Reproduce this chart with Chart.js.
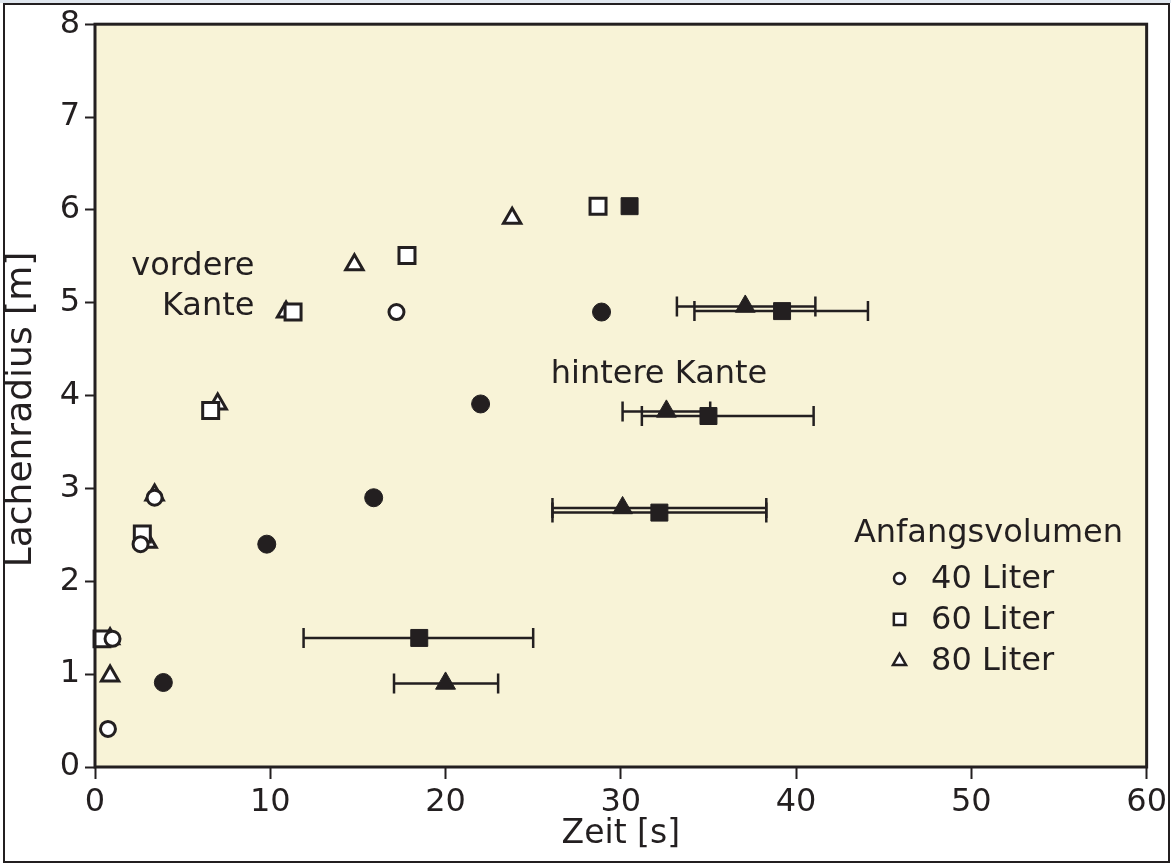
<!DOCTYPE html>
<html>
<head>
<meta charset="utf-8">
<script src="https://cdn.jsdelivr.net/npm/chart.js@4.4.1/dist/chart.umd.min.js"></script>
<style>
  html, body { margin: 0; padding: 0; background: #fff; }
</style>
</head>
<body>
<canvas id="chart" width="1171" height="863"></canvas>
<script>
// vordere Kante (open markers)
const frontCircleX   = [0.74, 1.0, 2.6, 3.4, 17.2]
const frontCircleY   = [0.41, 1.38, 2.40, 2.90, 4.90]
const frontSquareX   = [0.4, 2.7, 6.6, 11.3, 17.8, 28.7]
const frontSquareY   = [1.38, 2.51, 3.84, 4.90, 5.51, 6.04]
const frontTriangleX = [0.86, 0.86, 3.0, 3.4, 7.0, 10.9, 14.8, 23.8]
const frontTriangleY = [0.98, 1.38, 2.42, 2.93, 3.91, 4.90, 5.41, 5.91]

// hintere Kante (filled markers, some with horizontal error bars)
const rearCircleX      = [3.9, 9.8, 15.9, 22.0, 28.9]
const rearCircleY      = [0.91, 2.40, 2.90, 3.91, 4.90]
const rearSquareX      = [18.5, 32.2, 35.0, 39.2, 30.5]
const rearSquareY      = [1.39, 2.74, 3.78, 4.91, 6.04]
const rearSquareXMin   = [11.9, 26.1, 31.2, 34.2, null]
const rearSquareXMax   = [25.0, 38.3, 41.0, 44.1, null]
const rearTriangleX    = [20.0, 30.1, 32.6, 37.1]
const rearTriangleY    = [0.90, 2.79, 3.83, 4.96]
const rearTriangleXMin = [17.06, 26.1, 30.1, 33.2]
const rearTriangleXMax = [23.0, 38.3, 35.1, 41.1]

const legendLabels = ["40 Liter", "60 Liter", "80 Liter"]
const legendTitle = "Anfangsvolumen"
const xTicks = [0, 10, 20, 30, 40, 50, 60]
const yTicks = [0, 1, 2, 3, 4, 5, 6, 7, 8]
const yTitle = "Lachenradius [m]"

const INK = '#231f20'
const FONT = "'DejaVu Sans', 'Liberation Sans', sans-serif"

function pts(xs, ys, mins, maxs) {
    return xs.map((x, i) => ({
        x: x, y: ys[i],
        xMin: mins ? mins[i] : null,
        xMax: maxs ? maxs[i] : null
    }))
}

function openSet(label, data, style, radius) {
    return {
        label: label, data: data, pointStyle: style, pointRadius: radius, pointHoverRadius: radius,
        backgroundColor: '#ffffff', borderColor: INK, borderWidth: 3, clip: false
    }
}

function filledSet(label, data, style, radius) {
    return {
        label: label, data: data, pointStyle: style, pointRadius: radius, pointHoverRadius: radius,
        backgroundColor: INK, borderColor: INK, borderWidth: 1, clip: false
    }
}

// background, plot box and outer frame
const framePlugin = {
    id: 'frame',
    beforeDraw(chart) {
        const { ctx, chartArea: a, width, height } = chart
        ctx.save()
        ctx.fillStyle = '#ffffff'
        ctx.fillRect(0, 0, width, height)
        ctx.fillStyle = '#dfe6ee'
        ctx.fillRect(0, 0, width, 3)
        ctx.strokeStyle = INK
        ctx.lineWidth = 2
        ctx.strokeRect(4, 4, width - 6, height - 5)
        ctx.fillStyle = '#f8f3d7'
        ctx.fillRect(a.left, a.top, a.right - a.left, a.bottom - a.top)
        ctx.restore()
    },
    afterDatasetsDraw(chart) {
        const { ctx, chartArea: a } = chart
        ctx.save()
        ctx.strokeStyle = INK
        ctx.lineWidth = 3
        ctx.strokeRect(a.left, a.top, a.right - a.left, a.bottom - a.top)
        ctx.restore()
    }
}

// horizontal error bars, drawn under the markers
const errorBarPlugin = {
    id: 'errorBars',
    beforeDatasetsDraw(chart) {
        const { ctx, scales: { x, y } } = chart
        ctx.save()
        ctx.strokeStyle = INK
        ctx.lineWidth = 2.5
        chart.data.datasets.forEach(ds => {
            ds.data.forEach(p => {
                if (p.xMin == null || p.xMax == null) return
                const py = y.getPixelForValue(p.y)
                const x0 = x.getPixelForValue(p.xMin)
                const x1 = x.getPixelForValue(p.xMax)
                ctx.beginPath()
                ctx.moveTo(x0, py); ctx.lineTo(x1, py)
                ctx.moveTo(x0, py - 10); ctx.lineTo(x0, py + 10)
                ctx.moveTo(x1, py - 10); ctx.lineTo(x1, py + 10)
                ctx.stroke()
            })
        })
        ctx.restore()
    }
}

function drawMarker(ctx, style, cx, cy, r) {
    ctx.beginPath()
    if (style === 'circle') {
        ctx.arc(cx, cy, r, 0, Math.PI * 2)
    } else if (style === 'rect') {
        const s = r * Math.SQRT1_2
        ctx.rect(cx - s, cy - s, 2 * s, 2 * s)
    } else {
        ctx.moveTo(cx, cy - r)
        ctx.lineTo(cx + r * Math.sin(Math.PI * 2 / 3), cy - r * Math.cos(Math.PI * 2 / 3))
        ctx.lineTo(cx + r * Math.sin(Math.PI * 4 / 3), cy - r * Math.cos(Math.PI * 4 / 3))
        ctx.closePath()
    }
    ctx.fillStyle = '#ffffff'
    ctx.fill()
    ctx.strokeStyle = INK
    ctx.lineWidth = 2.5
    ctx.stroke()
}

// labels inside the plot, the legend block and the y axis title
const textPlugin = {
    id: 'texts',
    afterDraw(chart) {
        const { ctx, scales: { x, y } } = chart
        ctx.save()
        ctx.fillStyle = INK
        ctx.font = '32px ' + FONT
        ctx.textBaseline = 'alphabetic'

        ctx.textAlign = 'right'
        ctx.fillText('vordere', x.getPixelForValue(9.1), y.getPixelForValue(5.30))
        ctx.fillText('Kante', x.getPixelForValue(9.1), y.getPixelForValue(4.87))

        ctx.textAlign = 'left'
        ctx.fillText('hintere Kante', x.getPixelForValue(26.0), y.getPixelForValue(4.14))

        ctx.fillText(legendTitle, x.getPixelForValue(43.3), y.getPixelForValue(2.42))
        const styles = ['circle', 'rect', 'triangle']
        const radii = [5.5, 8, 7.5]
        const rows = [2.03, 1.59, 1.14]
        legendLabels.forEach((lab, i) => {
            const py = y.getPixelForValue(rows[i])
            drawMarker(ctx, styles[i], x.getPixelForValue(45.9), py, radii[i])
            ctx.fillStyle = INK
            ctx.textBaseline = 'middle'
            ctx.fillText(lab, x.getPixelForValue(47.7), py + 1)
        })

        // y axis title, a little below the plot centre as in the original
        ctx.translate(22, y.getPixelForValue(3.85))
        ctx.rotate(-Math.PI / 2)
        ctx.textAlign = 'center'
        ctx.textBaseline = 'middle'
        ctx.font = '36px ' + FONT
        ctx.fillText(yTitle, 0, 0)
        ctx.restore()
    }
}

new Chart(document.getElementById('chart'), {
    type: 'scatter',
    data: {
        datasets: [
            openSet('40 Liter vordere Kante', pts(frontCircleX, frontCircleY), 'circle', 7.5),
            openSet('60 Liter vordere Kante', pts(frontSquareX, frontSquareY), 'rect', 11.3),
            openSet('80 Liter vordere Kante', pts(frontTriangleX, frontTriangleY), 'triangle', 10),
            filledSet('40 Liter hintere Kante', pts(rearCircleX, rearCircleY), 'circle', 9),
            filledSet('60 Liter hintere Kante', pts(rearSquareX, rearSquareY, rearSquareXMin, rearSquareXMax), 'rect', 12),
            filledSet('80 Liter hintere Kante', pts(rearTriangleX, rearTriangleY, rearTriangleXMin, rearTriangleXMax), 'triangle', 11.5)
        ]
    },
    options: {
        responsive: false,
        animation: false,
        devicePixelRatio: 1,
        layout: { padding: { left: 0, right: 23, top: 17, bottom: 0 } },
        plugins: { legend: { display: false }, tooltip: { enabled: false } },
        scales: {
            x: {
                type: 'linear', min: 0, max: 60,
                afterFit(scale) { scale.height = 96 },
                afterBuildTicks(scale) { scale.ticks = xTicks.map(v => ({ value: v })) },
                border: { display: false },
                grid: { drawOnChartArea: false, tickLength: 12, tickColor: INK, tickWidth: 2 },
                ticks: { color: INK, padding: 4, font: { family: FONT, size: 32 }, maxRotation: 0 },
                title: { display: true, text: 'Zeit [s]', color: INK, font: { family: FONT, size: 33 }, padding: { top: 0, bottom: 9 } }
            },
            y: {
                type: 'linear', min: 0, max: 8,
                afterFit(scale) { scale.width = 95 },
                afterBuildTicks(scale) { scale.ticks = yTicks.map(v => ({ value: v })) },
                border: { display: false },
                grid: { drawOnChartArea: false, tickLength: 10, tickColor: INK, tickWidth: 2 },
                ticks: { color: INK, padding: 5, font: { family: FONT, size: 32 } },
                title: { display: false }
            }
        }
    },
    plugins: [framePlugin, errorBarPlugin, textPlugin]
})
</script>
</body>
</html>
